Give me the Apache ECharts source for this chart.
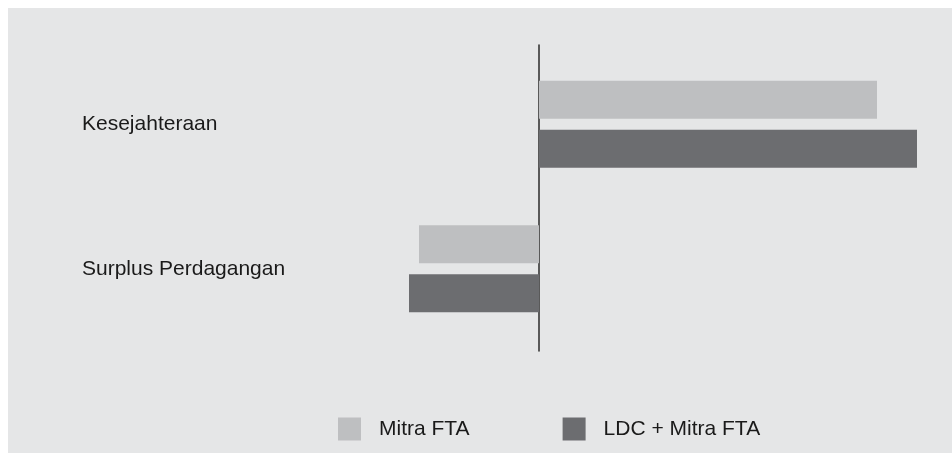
<!DOCTYPE html>
<html>
<head>
<meta charset="utf-8">
<script src="https://cdn.jsdelivr.net/npm/echarts@6/dist/echarts.min.js"></script>
<style>
  html, body { margin: 0; padding: 0; background: #ffffff; }
  #wrap { position: relative; width: 952px; height: 453px; background: #ffffff; overflow: hidden; }
  #chart { position: absolute; left: 8px; top: 8px; width: 944px; height: 445px; background: #e5e6e7; }
</style>
</head>
<body>
<div id="wrap"><div id="chart"></div></div>
<script>
// Categories (top to bottom) and series values
const categories = ['Kesejahteraan', 'Surplus Perdagangan'];
const seriesNames = ['Mitra FTA', 'LDC + Mitra FTA'];
const mitraFta = [3.38, -1.20];
const ldcMitraFta = [3.78, -1.30];

const colors = ['#bebfc1', '#6c6d70'];
const font = '"Liberation Sans", Arial, Helvetica, sans-serif';

const chart = echarts.init(document.getElementById('chart'), null, { renderer: 'canvas' });

chart.setOption({
  backgroundColor: '#e5e6e7',
  animation: false,
  textStyle: { fontFamily: font },
  legend: {
    left: 325,
    top: 404.5,
    itemWidth: 23,
    itemHeight: 23,
    itemGap: 93,
    icon: 'rect',
    data: seriesNames,
    textStyle: { fontSize: 21, color: '#1a1a1a', fontFamily: font, padding: [0, 0, 0, 13] }
  },
  grid: [
    // bars
    { left: 131, right: 13, top: 44, height: 289, containLabel: false },
    // zero line, slightly taller than the bar area
    { left: 131, right: 13, top: 37, height: 306, containLabel: false }
  ],
  xAxis: [
    { gridIndex: 0, type: 'value', min: -4, max: 4, show: false, splitLine: { show: false } },
    { gridIndex: 1, type: 'value', min: -4, max: 4, show: false, splitLine: { show: false } }
  ],
  yAxis: [
    {
      gridIndex: 0,
      type: 'category',
      inverse: true,
      data: categories,
      axisLine: { show: false, onZero: false },
      axisTick: { show: false },
      axisLabel: {
        align: 'left',
        margin: 57,
        fontSize: 21,
        color: '#1a1a1a',
        fontFamily: font
      }
    },
    {
      gridIndex: 1,
      type: 'category',
      data: [''],
      axisLine: { show: true, onZero: true, lineStyle: { color: '#2a2a2a', width: 1.5 } },
      axisTick: { show: false },
      axisLabel: { show: false }
    }
  ],
  series: [
    {
      name: seriesNames[0],
      type: 'bar',
      xAxisIndex: 0,
      yAxisIndex: 0,
      data: mitraFta,
      barWidth: 38,
      barGap: '29%',
      itemStyle: { color: colors[0] }
    },
    {
      name: seriesNames[1],
      type: 'bar',
      xAxisIndex: 0,
      yAxisIndex: 0,
      data: ldcMitraFta,
      barWidth: 38,
      barGap: '29%',
      itemStyle: { color: colors[1] }
    }
  ]
});
</script>
</body>
</html>
